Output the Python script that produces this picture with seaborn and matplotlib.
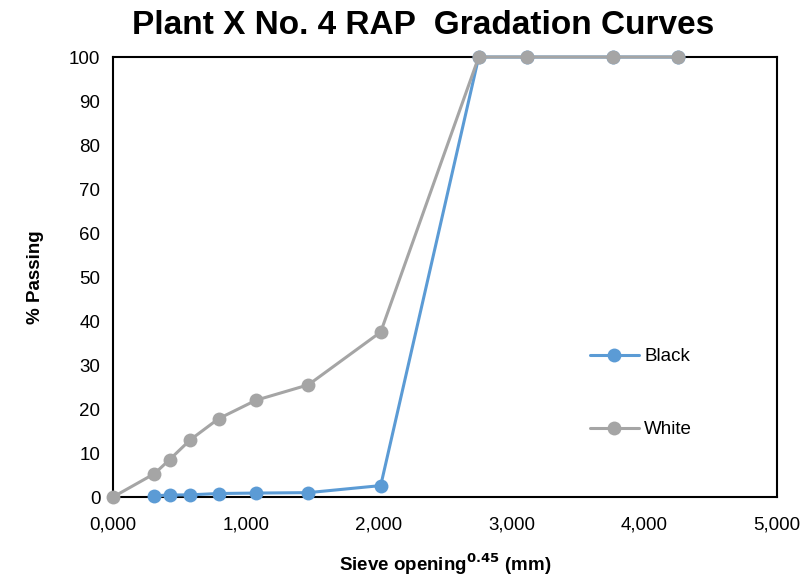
import matplotlib
matplotlib.use("Agg")
import matplotlib.pyplot as plt
import seaborn as sns
import pandas as pd
from matplotlib.ticker import FuncFormatter, MultipleLocator

sns.set_style("white")
plt.rcParams['font.family'] = ['Liberation Sans', 'DejaVu Sans']
plt.rcParams['text.color'] = 'black'
plt.rcParams['axes.labelcolor'] = 'black'

black_x = [0.312, 0.426, 0.582, 0.795, 1.077, 1.471, 2.016, 2.754, 3.116, 3.762, 4.257]
black_y = [0.3, 0.45, 0.5, 0.8, 0.9, 1.0, 2.6, 100, 100, 100, 100]
white_x = [0.0, 0.312, 0.426, 0.582, 0.795, 1.077, 1.471, 2.016, 2.754, 3.116, 3.762, 4.257]
white_y = [0.0, 5.3, 8.5, 13.0, 17.8, 22.0, 25.5, 37.5, 100, 100, 100, 100]

df_b = pd.DataFrame({"x": black_x, "y": black_y})
df_w = pd.DataFrame({"x": white_x, "y": white_y})

fig = plt.figure(figsize=(8.03, 5.82), dpi=100)
ax = fig.add_axes([0.1407, 0.146, 0.8269, 0.756])

sns.lineplot(data=df_b, x="x", y="y", ax=ax, color="#5B9BD5", marker="o",
             markersize=10, markeredgewidth=0, linewidth=2.2, sort=False, label="Black",
             clip_on=False, zorder=3)
sns.lineplot(data=df_w, x="x", y="y", ax=ax, color="#A5A5A5", marker="o",
             markersize=10, markeredgewidth=0, linewidth=2.2, sort=False, label="White",
             clip_on=False, zorder=4)

ax.set_xlim(0, 5)
ax.set_ylim(0, 100)
ax.xaxis.set_major_locator(MultipleLocator(1))
ax.yaxis.set_major_locator(MultipleLocator(10))
ax.xaxis.set_major_formatter(FuncFormatter(lambda v, p: f"{v:.3f}".replace('.', ',')))
ax.tick_params(axis='both', direction='in', length=6, width=1.5, labelsize=13.5,
               colors='black', pad=9)
ax.tick_params(axis='x', pad=14)
for s in ax.spines.values():
    s.set_color('black')
    s.set_linewidth(1.5)

ax.set_xlabel("Sieve opening$^{\\mathbf{0.45}}$ (mm)", fontsize=13.5, fontweight='bold', labelpad=13)
ax.set_ylabel("% Passing", fontsize=13.5, fontweight='bold', labelpad=18)
fig.suptitle("Plant X No. 4 RAP  Gradation Curves", fontsize=24, fontweight='bold', x=0.527, y=0.982)

ax.legend(loc='center left', bbox_to_anchor=(0.693, 0.236), frameon=False, fontsize=13.5,
          labelspacing=3.0, handlelength=2.6, handletextpad=0.3)

fig.savefig("out.png", dpi=100)
